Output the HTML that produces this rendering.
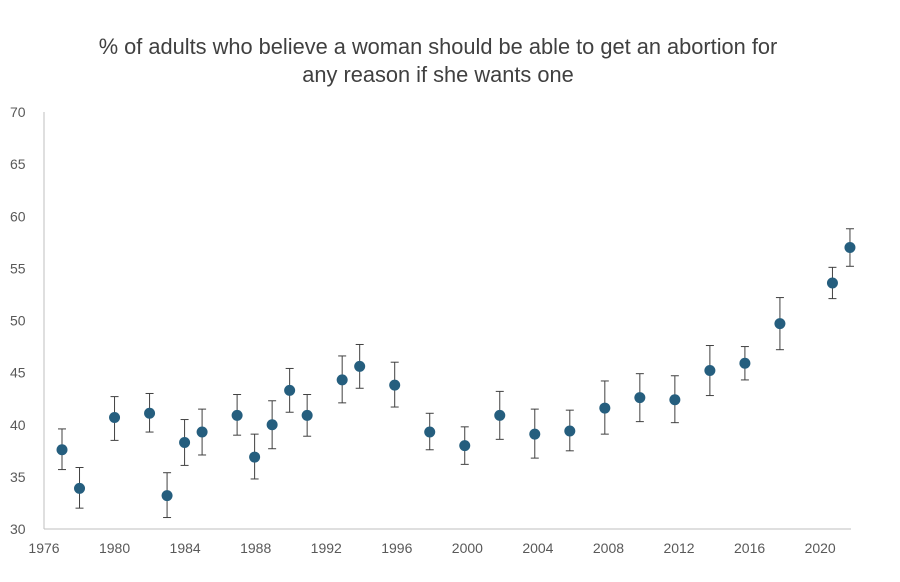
<!DOCTYPE html>
<html><head><meta charset="utf-8"><style>
body{margin:0;background:#fff;}
svg text{font-family:"Liberation Sans",Arial,sans-serif;}
</style></head><body>
<svg id="chart" width="900" height="577" viewBox="0 0 900 577" xmlns="http://www.w3.org/2000/svg">
<text x="438" y="54" text-anchor="middle" font-size="21.8" fill="#404040">% of adults who believe a woman should be able to get an abortion for</text>
<text x="438" y="82" text-anchor="middle" font-size="21.8" fill="#404040">any reason if she wants one</text>
<g id="axes"></g><g id="marks"></g>
</svg>
<script>
const years=[1977,1978,1980,1982,1983,1984,1985,1987,1988,1989,1990,1991,1993,1994,1996,1998,2000,2002,2004,2006,2008,2010,2012,2014,2016,2018,2021,2022];
const values=[37.6,33.9,40.7,41.1,33.2,38.3,39.3,40.9,36.9,40.0,43.3,40.9,44.3,45.6,43.8,39.3,38.0,40.9,39.1,39.4,41.6,42.6,42.4,45.2,45.9,49.7,53.6,57.0];
const lows=[35.7,32.0,38.5,39.3,31.1,36.1,37.1,39.0,34.8,37.7,41.2,38.9,42.1,43.5,41.7,37.6,36.2,38.6,36.8,37.5,39.1,40.3,40.2,42.8,44.3,47.2,52.1,55.2];
const highs=[39.6,35.9,42.7,43.0,35.4,40.5,41.5,42.9,39.1,42.3,45.4,42.9,46.6,47.7,46.0,41.1,39.8,43.2,41.5,41.4,44.2,44.9,44.7,47.6,47.5,52.2,55.1,58.8];
const yTicks=[30,35,40,45,50,55,60,65,70];
const xTicks=[1976,1980,1984,1988,1992,1996,2000,2004,2008,2012,2016,2020];
const NS="http://www.w3.org/2000/svg";
const X=v=>44.5+(v-1976)*17.51;
const XL=v=>44+(v-1976)*17.64;
const Y=v=>529-(v-30)*10.425;
function mk(tag,attrs,parent){const e=document.createElementNS(NS,tag);for(const k in attrs)e.setAttribute(k,attrs[k]);parent.appendChild(e);return e;}
const axes=document.getElementById('axes'),marks=document.getElementById('marks');
let l=mk('line',{x1:44,y1:Y(70),x2:44,y2:529,stroke:'#bfbfbf','stroke-width':1},axes);


l=mk('line',{x1:44,y1:529,x2:851,y2:529,stroke:'#bfbfbf','stroke-width':1},axes);


yTicks.forEach(t=>{const e=mk('text',{x:10,y:Y(t)+5,'font-size':14,fill:'#595959'},axes);e.textContent=t;

});
xTicks.forEach(t=>{const e=mk('text',{x:XL(t),y:553,'font-size':14,fill:'#595959','text-anchor':'middle'},axes);e.textContent=t;

});
years.forEach((yr,i)=>{const x=X(yr);const g=mk('g',{},marks);


mk('line',{x1:x,y1:Y(lows[i]),x2:x,y2:Y(highs[i]),stroke:'#404040','stroke-width':1},g);
mk('line',{x1:x-4,y1:Y(lows[i]),x2:x+4,y2:Y(lows[i]),stroke:'#404040','stroke-width':1},g);
mk('line',{x1:x-4,y1:Y(highs[i]),x2:x+4,y2:Y(highs[i]),stroke:'#404040','stroke-width':1},g);
mk('circle',{cx:x,cy:Y(values[i]),r:5.5,fill:'#255e7e'},g);});
</script>
</body></html>
